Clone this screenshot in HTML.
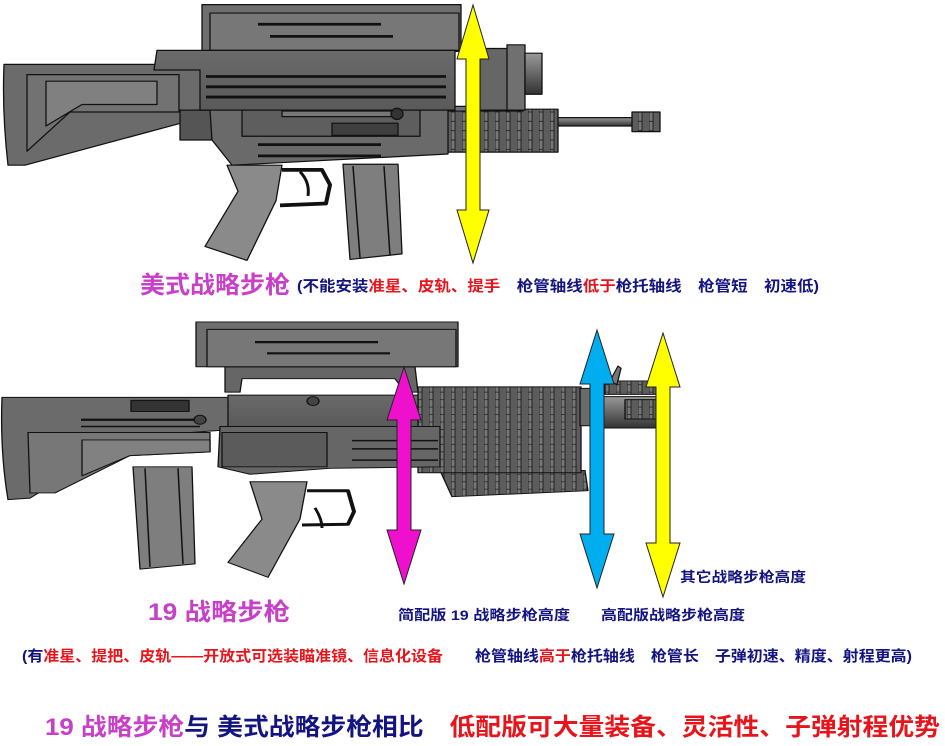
<!DOCTYPE html>
<html><head><meta charset="utf-8"><style>
html,body{margin:0;padding:0;background:#fff;}
svg{display:block;}
text{font-family:"Liberation Sans","Noto Sans CJK SC","WenQuanYi Zen Hei",sans-serif;font-weight:bold;}
</style></head><body>
<svg width="945" height="746" viewBox="0 0 945 746" xmlns="http://www.w3.org/2000/svg">
<defs>
<linearGradient id="g1" x1="0" y1="0" x2="0" y2="1"><stop offset="0" stop-color="#6a6a6a"/><stop offset="1" stop-color="#5a5a5a"/></linearGradient>
<linearGradient id="cyl" x1="0" y1="0" x2="0" y2="1"><stop offset="0" stop-color="#999"/><stop offset="0.5" stop-color="#666"/><stop offset="1" stop-color="#333"/></linearGradient>
<pattern id="rib" width="11" height="10" patternUnits="userSpaceOnUse"><rect width="11" height="10" fill="#5c5c5c"/><rect x="0" width="4" height="10" fill="#777" stroke="#111" stroke-width="0.8"/></pattern>
</defs>
<g stroke="#111" stroke-width="1.3" stroke-linejoin="round" transform="scale(1,0.9333)">
<!-- ============ TOP GUN ============ -->
<rect x="555" y="126" width="80" height="9" fill="url(#cyl)"/>
<rect x="632" y="120" width="28" height="21" fill="url(#rib)"/>
<rect x="423" y="117" width="135" height="46" fill="url(#rib)"/>
<rect x="423" y="114" width="100" height="5" fill="#6a7480"/>
<rect x="480" y="52" width="32" height="66" fill="#666"/>
<rect x="507" y="48" width="18" height="70" fill="#707070"/>
<rect x="525" y="57" width="17" height="44" fill="url(#cyl)"/>
<path d="M4,69 L205,69 L205,125 L25,177 L8,177 Q2,120 4,69 Z" fill="#6b6b6b"/>
<path d="M27,80 L179,80 L179,120 L70,120 L27,162 Z" fill="#727272"/>
<path d="M46,87 L157,87 L157,112 L82,112 L46,135 Z" fill="#808080"/>
<rect x="180" y="118" width="32" height="32" fill="#555"/>
<rect x="202" y="5" width="259" height="50" fill="#6e6e6e"/>
<rect x="210" y="14" width="249" height="40" fill="#777"/>
<line x1="258" y1="26" x2="381" y2="26" stroke-width="3"/>
<line x1="270" y1="39" x2="393" y2="39" stroke-width="3"/>
<path d="M157,54 L455,54 L455,118 L200,118 L200,75 L154,75 Z" fill="url(#g1)"/>
<line x1="206" y1="82" x2="446" y2="82" stroke-width="3"/>
<line x1="206" y1="93" x2="446" y2="93" stroke-width="3"/>
<line x1="206" y1="104" x2="446" y2="104" stroke-width="3"/>
<path d="M210,118 L448,118 L448,165 L232,177 L212,150 Z" fill="#6a6a6a"/>
<rect x="242" y="118" width="178" height="28" fill="#5e5e5e"/>
<rect x="282" y="119" width="115" height="6" fill="#777"/>
<circle cx="397" cy="122" r="6" fill="#333"/>
<rect x="332" y="132" width="66" height="13" fill="#3f3f3f"/>
<line x1="258" y1="155" x2="381" y2="155" stroke-width="3"/>
<line x1="258" y1="167" x2="381" y2="167" stroke-width="3"/>
<path d="M227,177 L282,177 L276,215 L247,279 L205,264 L238,205 Z" fill="#8a8a8a"/>
<path d="M282,182 L322,182 L330,198 L326,218 L280,220" fill="none" stroke-width="4"/>
<path d="M300,184 Q310,195 308,210" fill="none" stroke-width="3"/>
<path d="M343,176 L398,176 L402,272 L350,278 Z" fill="#7e7e7e"/>
<line x1="353" y1="178" x2="360" y2="276" stroke-width="1.5"/>
<line x1="384" y1="178" x2="390" y2="274" stroke-width="1.5"/>
</g>

<g stroke="#111" stroke-width="1.3" stroke-linejoin="round" transform="translate(0,310) scale(1,0.7467) translate(0,-310)">
<!-- ============ BOTTOM GUN ============ -->
<rect x="605" y="405" width="58" height="18" fill="url(#rib)"/>
<rect x="600" y="426" width="63" height="42" fill="url(#cyl)"/>
<rect x="625" y="430" width="36" height="26" fill="url(#rib)"/>
<path d="M610,405 L618,385 L621,388 L617,410 Z" fill="#777"/>
<path d="M440,525 L585,525 L588,552 L452,560 Z" fill="url(#rib)"/>
<rect x="418" y="413" width="163" height="115" fill="url(#rib)"/>
<rect x="580" y="415" width="22" height="50" fill="#6a6a6a"/>
<path d="M2,427 L232,427 L232,470 L130,480 L30,562 L8,564 Q0,500 2,427 Z" fill="#6b6b6b"/>
<path d="M28,474 L210,474 L210,500 L130,505 L55,555 L30,555 Z" fill="#777"/>
<path d="M82,484 L210,484 L210,500 L130,505 L82,532 Z" fill="#818181"/>
<rect x="131" y="431" width="58" height="15" fill="#333"/>
<line x1="81" y1="457" x2="200" y2="457" stroke-width="3"/>
<line x1="81" y1="466" x2="200" y2="466" stroke-width="2"/>
<circle cx="200" cy="457" r="6" fill="#444"/>
<path d="M225,386 L415,386 L418,420 L405,420 L395,402 L242,402 L240,420 L225,420 Z" fill="#666"/>
<rect x="196" y="326" width="262" height="60" fill="#6e6e6e"/>
<rect x="207" y="336" width="249" height="50" fill="#777"/>
<line x1="255" y1="353" x2="378" y2="353" stroke-width="3"/>
<line x1="267" y1="368" x2="390" y2="368" stroke-width="3"/>
<rect x="228" y="424" width="190" height="42" fill="url(#g1)"/>
<path d="M220,466 L440,466 L440,520 L330,522 L250,530 L218,520 Z" fill="#666"/>
<rect x="222" y="474" width="105" height="46" fill="#5b5b5b"/>
<circle cx="313" cy="432" r="6" fill="#444"/>
<line x1="352" y1="485" x2="438" y2="485" stroke-width="2"/>
<line x1="352" y1="496" x2="438" y2="496" stroke-width="2"/>
<line x1="352" y1="511" x2="438" y2="511" stroke-width="2"/>
<path d="M133,520 L192,520 L195,650 L140,657 Z" fill="#7e7e7e"/>
<line x1="145" y1="522" x2="150" y2="654" stroke-width="1.5"/>
<line x1="178" y1="522" x2="183" y2="650" stroke-width="1.5"/>
<path d="M250,540 L307,540 L300,590 L268,668 L228,648 L262,590 Z" fill="#8a8a8a"/>
<path d="M307,552 L348,552 L354,580 L348,597 L302,598" fill="none" stroke-width="4"/>
<path d="M315,575 Q322,590 322,602" fill="none" stroke-width="3"/>
</g>

<!-- ============ ARROWS ============ -->
<g stroke="#222" stroke-width="1">
<path d="M473,5 L489,59 L480,59 L480,210 L489,210 L473,263 L457,210 L466,210 L466,59 L457,59 Z" fill="#ffff00"/>
<path d="M404,367 L421,420 L411,420 L411,530 L421,530 L404,584 L387,530 L397,530 L397,420 L387,420 Z" fill="#ee10cc"/>
<path d="M597,330 L614,384 L604,384 L604,534 L614,534 L597,588 L580,534 L590,534 L590,384 L580,384 Z" fill="#00aeef"/>
<path d="M663,333 L680,387 L670,387 L670,543 L680,543 L663,597 L646,543 L656,543 L656,387 L646,387 Z" fill="#ffff00"/>
</g>

<!-- ============ TEXT ============ -->
<text x="140" y="293" font-size="24" fill="#c83fc8" textLength="150" lengthAdjust="spacingAndGlyphs">美式战略步枪</text>
<text x="297" y="291" font-size="15" textLength="522" lengthAdjust="spacingAndGlyphs"><tspan fill="#141480">(不能安装</tspan><tspan fill="#e8141c">准星、皮轨、提手</tspan><tspan fill="#141480">　枪管轴线</tspan><tspan fill="#e8141c">低于</tspan><tspan fill="#141480">枪托轴线　枪管短　初速低)</tspan></text>

<text x="680" y="582" font-size="14" fill="#141480" textLength="126" lengthAdjust="spacingAndGlyphs">其它战略步枪高度</text>
<text x="148" y="620" font-size="24" fill="#c83fc8" textLength="142" lengthAdjust="spacingAndGlyphs">19 战略步枪</text>
<text x="398" y="620" font-size="14" fill="#141480" textLength="172" lengthAdjust="spacingAndGlyphs">简配版 19 战略步枪高度</text>
<text x="601" y="620" font-size="14" fill="#141480" textLength="144" lengthAdjust="spacingAndGlyphs">高配版战略步枪高度</text>

<text x="22" y="661" font-size="15" textLength="890" lengthAdjust="spacingAndGlyphs"><tspan fill="#141480">(有</tspan><tspan fill="#e8141c">准星、提把、皮轨——开放式可选装瞄准镜、信息化设备</tspan><tspan fill="#141480">　　枪管轴线</tspan><tspan fill="#e8141c">高于</tspan><tspan fill="#141480">枪托轴线　枪管长　子弹初速、精度、射程更高)</tspan></text>

<text x="45" y="735" font-size="24" textLength="895" lengthAdjust="spacingAndGlyphs"><tspan fill="#c83fc8">19 战略步枪</tspan><tspan fill="#141480">与 美式战略步枪相比　</tspan><tspan fill="#e8141c">低配版可大量装备、灵活性、子弹射程优势</tspan></text>
</svg>
</body></html>
